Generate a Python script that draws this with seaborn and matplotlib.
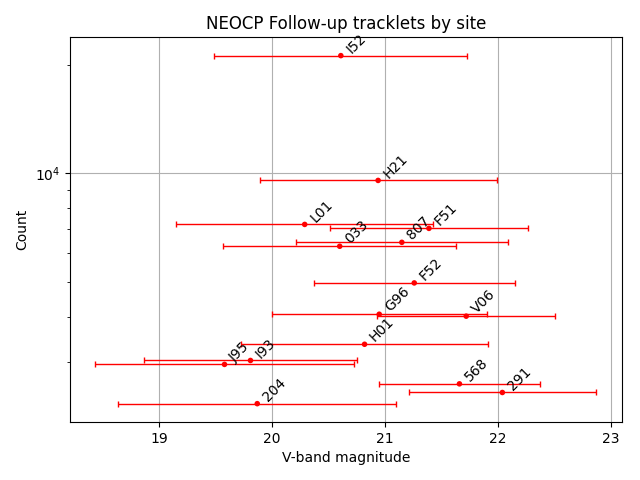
import seaborn as sns
import matplotlib.pyplot as plt
import pandas as pd

# Данные
sites = ['I52', 'H21', 'L01', 'F51', '807', '033', 'F52', 'G96', 'V06',
         'H01', 'I93', 'J95', '568', '291', '204']
mag = [20.61, 20.94, 20.29, 21.39, 21.15, 20.60, 21.26, 20.95, 21.72,
       20.82, 19.81, 19.58, 21.66, 22.04, 19.87]
mag_err = [1.12, 1.05, 1.14, 0.88, 0.94, 1.03, 0.89, 0.95, 0.79,
           1.09, 0.94, 1.15, 0.71, 0.83, 1.23]
counts = [21200, 9560, 7220, 7040, 6440, 6280, 4970, 4070, 4020,
          3360, 3030, 2955, 2610, 2470, 2300]

data = pd.DataFrame({'site': sites, 'mag': mag, 'err': mag_err, 'count': counts})

fig, ax = plt.subplots(figsize=(6.4, 4.8), dpi=100)

# Горизонтальные планки погрешностей
ax.errorbar(data['mag'], data['count'], xerr=data['err'], fmt='none',
            ecolor='red', elinewidth=1, capsize=2)
sns.scatterplot(data=data, x='mag', y='count', color='red', s=16,
                edgecolor='none', ax=ax, zorder=3)

# Подписи станций
for _, row in data.iterrows():
  ax.annotate(row['site'], (row['mag'], row['count']), xytext=(2, 2),
              textcoords='offset points', rotation=45, fontsize=10)

ax.set_yscale('log')
ax.set_xlim(18.21, 23.1)
ax.set_ylim(2047, 23810)
ax.grid(True, color='#b0b0b0')
ax.set_axisbelow(True)
ax.set_title('NEOCP Follow-up tracklets by site')
ax.set_xlabel('V-band magnitude')
ax.set_ylabel('Count')

fig.subplots_adjust(left=0.109, right=0.972, top=0.922, bottom=0.121)
plt.savefig('out.png')
